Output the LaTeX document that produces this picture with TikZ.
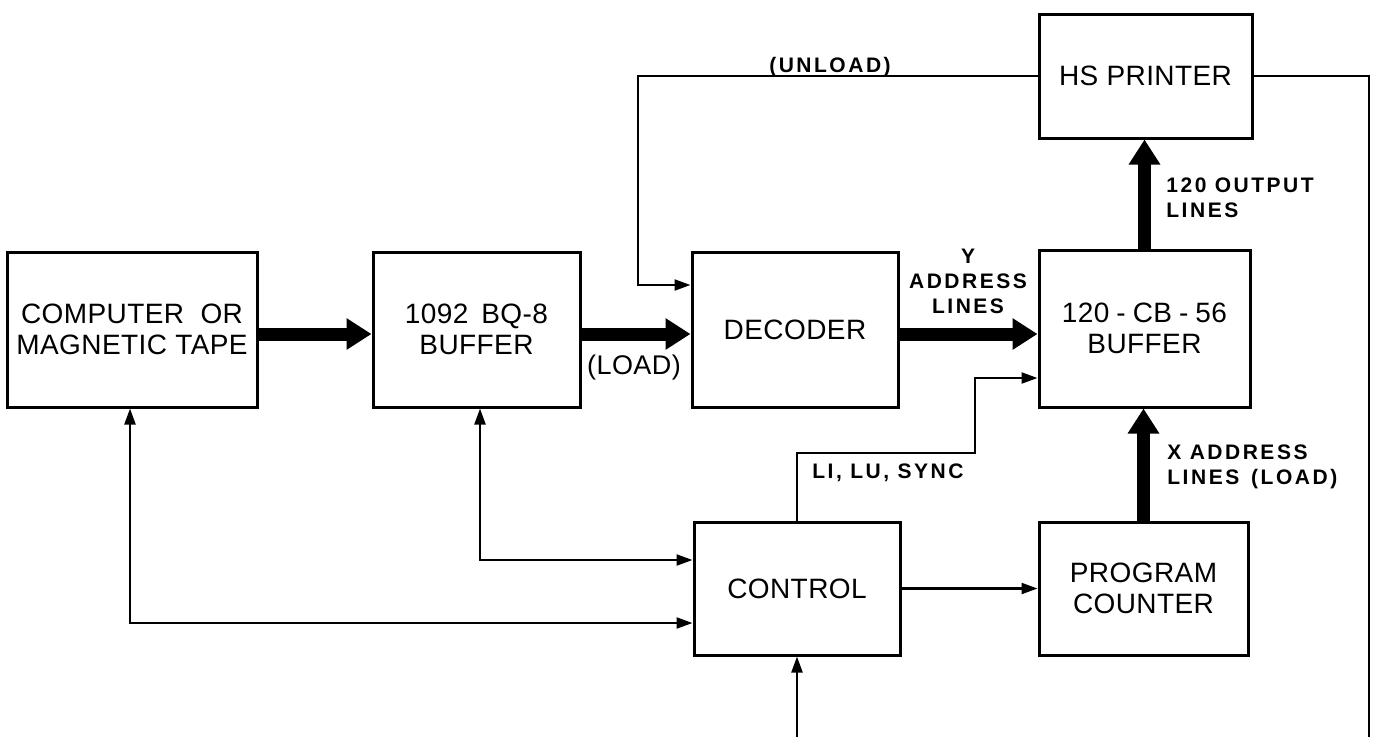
\documentclass[tikz,border=0pt]{standalone}
\usepackage{fontspec}
\setmainfont{Liberation Sans}[LetterSpace=1.5]
\newfontfamily\lblfont{Liberation Sans}[LetterSpace=12]
\usetikzlibrary{arrows.meta}
\begin{document}
\begin{tikzpicture}[x=0.5pt,y=-0.5pt,
  blk/.style={draw,line width=1.5pt,rectangle,inner sep=0pt,align=center,font=\fontsize{14}{15.5}\selectfont},
  thinline/.style={line width=1.1pt},
  ta/.style={thinline,-{Triangle[length=8pt,width=5.5pt]}},
  tb/.style={thinline,{Triangle[length=8pt,width=5.5pt]}-{Triangle[length=8pt,width=5.5pt]}},
  fat/.style={line width=6.5pt,-{Triangle[length=12.5pt,width=15pt]}},
  lbl/.style={font=\lblfont\bfseries\fontsize{10.5}{12.5}\selectfont,inner sep=0pt,align=left},
  mlbl/.style={font=\fontsize{13.5}{15}\selectfont,inner sep=0pt}
]
\useasboundingbox (0,0) rectangle (1377,736);

\node[blk,minimum width=125pt,minimum height=77.5pt] (comp) at (132,329.5) {COMPUTER\ \ OR\\MAGNETIC TAPE};
\node[blk,minimum width=103.5pt,minimum height=77.5pt] (buf1) at (476.5,329.5) {1092 \,BQ-8\\BUFFER};
\node[blk,minimum width=103pt,minimum height=77.5pt] (dec) at (795,329.5) {DECODER};
\node[blk,minimum width=105.5pt,minimum height=78.5pt] (cb) at (1144.5,328.5) {120\hspace{3.5pt}-\hspace{3.5pt}CB\hspace{3.5pt}-\hspace{3.5pt}56\\BUFFER};
\node[blk,minimum width=106.5pt,minimum height=62pt] (hs) at (1145.5,76) {HS PRINTER};
\node[blk,minimum width=103pt,minimum height=66.5pt] (ctl) at (797,588.5) {CONTROL};
\node[blk,minimum width=104.5pt,minimum height=66.5pt] (pc) at (1143.5,588.5) {PROGRAM\\COUNTER};

% thick data paths
\coordinate (ya) at (0,334);
\draw[fat] (comp.east |- ya) -- (buf1.west |- ya);
\draw[fat] (buf1.east |- ya) -- (dec.west |- ya);
\draw[fat] (dec.east |- ya) -- (cb.west |- ya);
\draw[fat] (cb.north) -- (cb.north |- hs.south);
\draw[fat] (pc.north) -- (pc.north |- cb.south);

% unload
\coordinate (u1) at (638,285);
\draw[ta] (hs.west) -| (u1) -- (u1 -| dec.west);
% printer to control (bottom run lies at the picture's edge)
\coordinate (r1) at (1369,739);
\draw[ta] (hs.east) -| (r1) -| (ctl.south);
% LI LU SYNC
\coordinate (l1) at (975,453);
\coordinate (l2) at (975,378);
\draw[ta] (ctl.north) |- (l1) -- (l2) -- (l2 -| cb.west);
% control links
\coordinate (c1) at (130,623);
\coordinate (c2) at (480,560);
\draw[tb] (c1 |- comp.south) -- (c1) -- (c1 -| ctl.west);
\draw[tb] (c2 |- buf1.south) -- (c2) -- (c2 -| ctl.west);
\draw[ta] (ctl.east) -- (pc.west);

% labels
\node[mlbl] (tload) at (634,367) {(LOAD)};
\node[lbl] (tunload) at (830,67) {(UNLOAD)};
\node[lbl,align=center] (tyaddr) at (968,281) {Y\\ADDRESS\\LINES};
\node[lbl,anchor=west] (tout) at (1166,198) {120 OUTPUT\\LINES};
\node[lbl,anchor=west] (txaddr) at (1167,467) {X ADDRESS\\LINES\ \,(LOAD)};
\node[lbl,anchor=west] (tli) at (812,473) {LI, LU, SYNC};
\end{tikzpicture}
\end{document}
